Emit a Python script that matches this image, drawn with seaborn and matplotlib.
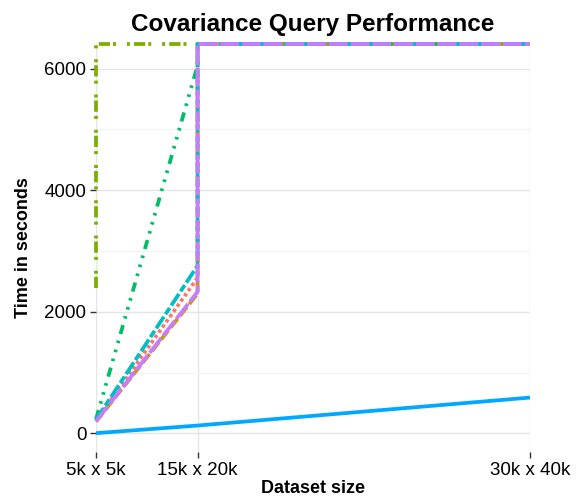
import numpy as np
import pandas as pd
import matplotlib
matplotlib.use("Agg")
import matplotlib.pyplot as plt
import seaborn as sns

# ---- data (NaN = run did not finish / off the chart) ----
x_labels = ["5k x 5k", "15k x 20k", "30k x 40k"]
x_cells = [25, 300, 1200]          # dataset size in millions of cells (sets the x spacing)

series_names = ["A", "B", "C", "D", "E", "F", "G"]
vals_red = [205, 2560, np.nan]
vals_gold = [195, 2300, np.nan]
vals_olive = [2400, np.nan, np.nan]
vals_green = [235, 6050, np.nan]
vals_cyan = [225, 2760, np.nan]
vals_blue = [5, 130, 590]
vals_purple = [200, 2330, np.nan]
all_vals = [vals_red, vals_gold, vals_olive, vals_green, vals_cyan, vals_blue, vals_purple]

colors = ["#F8766D", "#CD9600", "#7CAE00", "#00BE67", "#00BFC4", "#00A9FF", "#C77CFF"]
dash_styles = [(0.9, 0.8),
               (3, 1),
               (3, 0.8, 0.8, 2.9, 0.8, 1.1),
               (2.5, 1.8, 0.7, 1.8, 0.7, 1.8, 0.7, 1.8),
               (3.7, 0.8, 2, 0.8),
               "",
               (5, 0.8)]

y_ticks = [0, 2000, 4000, 6000]
y_limits = (-305, 6405)
x_limits = (25, 1200)
cap = y_limits[1]

# ---- build paths: unfinished runs go straight up to the top edge ----
rows = []
for name, vals in zip(series_names, all_vals):
    order = 0
    last = None
    for xv, v in zip(x_cells, vals):
        if np.isnan(v):
            if last is not None and last[1] != cap:
                rows.append((name, last[0], cap, order)); order += 1
            rows.append((name, xv, cap, order)); order += 1
            last = (xv, cap)
        else:
            rows.append((name, xv, v, order)); order += 1
            last = (xv, v)
df = pd.DataFrame(rows, columns=["series", "size", "time", "order"])

sns.set_theme(style="whitegrid")
plt.rcParams["font.family"] = ["Liberation Sans", "DejaVu Sans"]
plt.rcParams["text.color"] = "black"
plt.rcParams["axes.labelcolor"] = "black"

fig = plt.figure(figsize=(5.81, 4.99), dpi=100)
ax = fig.add_axes([96 / 581, 1 - 452 / 499, (530 - 96) / 581, (452 - 44) / 499])

sns.lineplot(data=df, x="size", y="time", hue="series", style="series",
             hue_order=series_names, style_order=series_names,
             palette=dict(zip(series_names, colors)),
             dashes=dict(zip(series_names, dash_styles)),
             sort=False, estimator=None, linewidth=2.7, legend=False, ax=ax)
for ln in ax.get_lines():
    ln.set_clip_on(False)
    ln.set_solid_capstyle("butt")
    ln.set_dash_capstyle("butt")

ax.set_xlim(*x_limits)
ax.set_ylim(*y_limits)
ax.set_xticks(x_cells)
ax.set_xticklabels(x_labels)
ax.set_yticks(y_ticks)
ax.set_yticklabels([str(t) for t in y_ticks])
ax.set_yticks([1000, 3000, 5000], minor=True)

ax.set_facecolor("white")
for s in ax.spines.values():
    s.set_visible(False)
ax.grid(True, which="major", color="#E5E5E5", linewidth=1.0)
ax.grid(True, which="minor", axis="y", color="#F3F3F3", linewidth=0.8)
ax.grid(False, which="minor", axis="x")
ax.tick_params(axis="both", which="major", length=4, width=1.0, color="#333333",
               labelsize=13.5, labelcolor="black", pad=3, bottom=True, left=True)
ax.tick_params(axis="both", which="minor", length=0)

ax.set_xlabel("Dataset size", fontsize=13, fontweight="bold", labelpad=1, color="black")
ax.set_ylabel("Time in seconds", fontsize=13, fontweight="bold", labelpad=9, color="black")
ax.set_title("Covariance Query Performance", fontsize=17.5, fontweight="bold", pad=9,
             color="black")

fig.savefig("out.png", dpi=100, facecolor="white")
